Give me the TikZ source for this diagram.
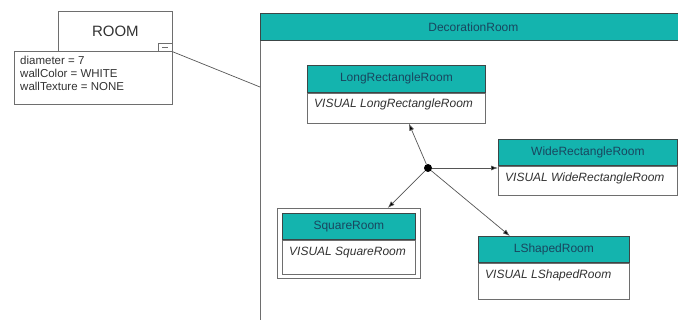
\documentclass[tikz,border=0pt]{standalone}
\usepackage{fontspec}
\setmainfont{Liberation Sans}
\usetikzlibrary{arrows.meta,calc}
\definecolor{hdr}{RGB}{20,180,174}
\definecolor{hdrtext}{RGB}{25,70,95}
\definecolor{frame}{RGB}{110,110,110}
\definecolor{darkframe}{RGB}{60,70,70}
\definecolor{conn}{RGB}{85,85,85}
\definecolor{bodytext}{RGB}{50,50,50}

\begin{document}
\begin{tikzpicture}[x=1pt,y=-1pt,
  headbox/.style={draw=darkframe, fill=hdr, line width=0.8pt, anchor=north west,
    inner sep=0pt, text=hdrtext, font=\fontsize{12}{14}\selectfont},
  bodybox/.style={draw=frame, fill=white, line width=0.8pt, anchor=north west, inner sep=0pt},
  visual/.style={anchor=west, inner sep=0pt, text=bodytext, font=\fontsize{12}{14}\selectfont\itshape},
  plainbox/.style={draw=frame, line width=0.8pt, anchor=north west, inner sep=0pt},
  link/.style={draw=conn, line width=0.7pt, -{Latex[length=7pt,width=5pt,fill=black]}}
]
\useasboundingbox (0,0) rectangle (678,320);

% ROOM object with its attribute compartment
\node[plainbox, minimum width=114pt, minimum height=40pt,
      font=\fontsize{15}{17}\selectfont, text=bodytext] (room) at (58,11) {ROOM};
\node[plainbox, minimum width=14pt, minimum height=8pt] (collapse) at (158,43) {};
\draw[frame, line width=0.6pt] ($(collapse.center)+(-3,0)$) -- ($(collapse.center)+(3,0)$);
\node[plainbox, minimum width=158pt, minimum height=53pt] (attrs) at (14,51) {};
\node[anchor=north west, inner sep=0pt, align=left, text=bodytext,
      font=\fontsize{11.5}{12.8}\selectfont] (attrtext) at (20,56)
  {diameter = 7\\wallColor = WHITE\\wallTexture = NONE};

% DecorationRoom container
\node[headbox, minimum width=426pt, minimum height=27pt] (deco) at (260,13) {DecorationRoom};
\draw[frame, line width=0.8pt] (deco.south west) -- ++(0,282);
\coordinate (decoside) at (260,87);
\draw[conn, line width=0.7pt] (collapse.south east) -- (decoside);

% LongRectangleRoom
\node[headbox, minimum width=178pt, minimum height=27pt] (lhead) at (307,65) {LongRectangleRoom};
\node[bodybox, minimum width=178pt, minimum height=30pt] (lbody) at (lhead.south west) {};
\node[visual] (ltext) at ($(lbody.north west)+(7,12)$) {VISUAL LongRectangleRoom};

% WideRectangleRoom
\node[headbox, minimum width=179pt, minimum height=26pt] (whead) at (498,139) {WideRectangleRoom};
\node[bodybox, minimum width=179pt, minimum height=29pt] (wbody) at (whead.south west) {};
\node[visual] (wtext) at ($(wbody.north west)+(7,13)$) {VISUAL WideRectangleRoom};

% SquareRoom (double frame)
\node[plainbox, fill=white, minimum width=143pt, minimum height=70pt] (sframe) at (277,208) {};
\node[headbox, minimum width=133pt, minimum height=26pt] (shead) at (282,213) {SquareRoom};
\node[bodybox, minimum width=133pt, minimum height=34pt] (sbody) at (shead.south west) {};
\node[visual] (stext) at ($(sbody.north west)+(7,13)$) {VISUAL SquareRoom};

% LShapedRoom
\node[headbox, minimum width=151pt, minimum height=26pt] (lshead) at (478,236) {LShapedRoom};
\node[bodybox, minimum width=151pt, minimum height=36pt] (lsbody) at (lshead.south west) {};
\node[visual] (lstext) at ($(lsbody.north west)+(7,13)$) {VISUAL LShapedRoom};

% junction and its branches
\node[circle, fill=black, inner sep=0pt, minimum size=8pt] (hub) at (428,168) {};
\draw[link] (hub) -- ($(lbody.south west)!0.57!(lbody.south east)$);
\draw[link] (hub) -- (hub -| wbody.west);
\draw[link] (hub) -- ($(sframe.north west)!0.77!(sframe.north east)$);
\draw[link] (hub) -- ($(lshead.north west)!0.21!(lshead.north east)$);
\end{tikzpicture}
\end{document}
